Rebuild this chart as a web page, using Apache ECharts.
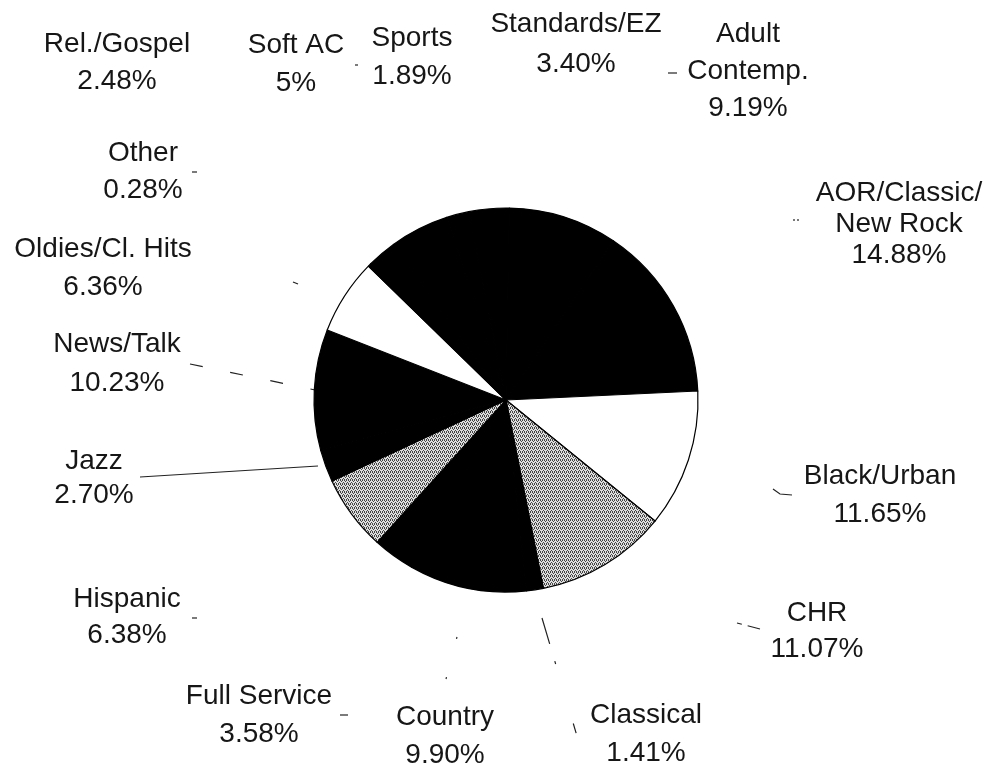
<!DOCTYPE html>
<html>
<head>
<meta charset="utf-8">
<script src="https://cdn.jsdelivr.net/npm/echarts@6/dist/echarts.min.js"></script>
<style>
html,body{margin:0;padding:0;background:#ffffff;}
#chart{width:991px;height:766px;}
</style>
</head>
<body>
<div id="chart"></div>
<script>
// ---- data (alphabetical, clockwise from 12 o'clock) ----
const categories = ['Adult\nContemp.', 'AOR/Classic/\nNew Rock', 'Black/Urban', 'CHR', 'Classical',
  'Country', 'Full Service', 'Hispanic', 'Jazz', 'News/Talk', 'Oldies/Cl. Hits', 'Other',
  'Rel./Gospel', 'Soft AC', 'Sports', 'Standards/EZ'];
const shares = [9.19, 14.88, 11.65, 11.07, 1.41, 9.90, 3.58, 6.38, 2.70, 10.23, 6.36, 0.28, 2.48, 5, 1.89, 3.40];
const shareLabels = ['9.19%', '14.88%', '11.65%', '11.07%', '1.41%', '9.90%', '3.58%', '6.38%', '2.70%',
  '10.23%', '6.36%', '0.28%', '2.48%', '5%', '1.89%', '3.40%'];

// ---- styles / layout (kept apart from the data) ----
const fillKinds = ['black', 'black', 'white', 'stipple', 'black', 'black', 'black', 'stipple', 'black',
  'black', 'white', 'black', 'black', 'black', 'black', 'black'];
// [center x, block center y, line height]
const labelPlace = [
  [748, 71, 37], [899, 224, 31], [880, 495, 38], [817, 631, 36], [646, 734, 38],
  [445, 736, 38], [259, 715, 38], [127, 617, 36], [94, 478, 34], [117, 364, 39],
  [103, 268, 38], [143, 172, 37], [117, 63, 37], [296, 64, 38], [412, 57, 38], [576, 44, 40]
];
const leaders = [
  {pts: [[668, 73], [677, 73]]},
  {pts: [[793, 220], [799, 220]], dash: [2, 2]},
  {pts: [[773, 489], [780, 494], [792, 495]]},
  {pts: [[737, 623], [760, 629]], dash: [5, 6, 14]},
  {pts: [[542, 618], [577, 736]], dash: [27, 18, 3, 62, 10]},
  {pts: [[457, 637], [446, 679]], dash: [2, 39.5]},
  {pts: [[340, 715], [348, 715]]},
  {pts: [[192, 618], [197, 618]]},
  {pts: [[140, 477], [318, 466]]},
  {pts: [[190, 364], [320, 391]], dash: [13, 28]},
  {pts: [[293, 282], [298, 284]]},
  {pts: [[192, 172], [197, 172]]},
  null,
  {pts: [[355, 65], [358, 65]]},
  null,
  null
];

function makeStipple() {
  const c = document.createElement('canvas');
  c.width = 4; c.height = 4;
  const g = c.getContext('2d');
  g.fillStyle = '#dedede';
  g.fillRect(0, 0, 4, 4);
  g.fillStyle = '#444444';
  [[0, 0], [2, 0], [1, 1], [3, 2], [0, 3], [2, 3]].forEach(function (p) { g.fillRect(p[0], p[1], 1, 1); });
  return c;
}
const stipple = {image: makeStipple(), repeat: 'repeat'};
function fillOf(kind) {
  if (kind === 'white') return '#ffffff';
  if (kind === 'stipple') return stipple;
  return '#000000';
}

const chart = echarts.init(document.getElementById('chart'), null, {renderer: 'canvas'});
chart.setOption({
  backgroundColor: '#ffffff',
  animation: false,
  series: [{
    type: 'pie',
    center: [506, 400],
    radius: 192,
    startAngle: 89,
    clockwise: true,
    avoidLabelOverlap: false,
    minShowLabelAngle: 0,
    itemStyle: {borderColor: '#000000', borderWidth: 1.2},
    label: {
      show: true,
      position: 'outside',
      color: '#161616',
      fontFamily: 'Liberation Sans',
      fontSize: 28,
      formatter: function (p) { return p.name + '\n' + shareLabels[p.dataIndex]; }
    },
    labelLine: {show: true, lineStyle: {color: '#222222', width: 1.2}},
    emphasis: {disabled: true},
    labelLayout: function (p) {
      const L = labelPlace[p.dataIndex];
      const o = {x: L[0], y: L[1], align: 'center', verticalAlign: 'middle'};
      const ld = leaders[p.dataIndex];
      if (ld) o.labelLinePoints = ld.pts;
      return o;
    },
    data: categories.map(function (name, i) {
      const ld = leaders[i];
      return {
        name: name,
        value: shares[i],
        itemStyle: {color: fillOf(fillKinds[i])},
        label: {lineHeight: labelPlace[i][2]},
        labelLine: ld ? {show: true, lineStyle: {type: ld.dash || 'solid'}} : {show: false}
      };
    })
  }]
});
</script>
</body>
</html>
